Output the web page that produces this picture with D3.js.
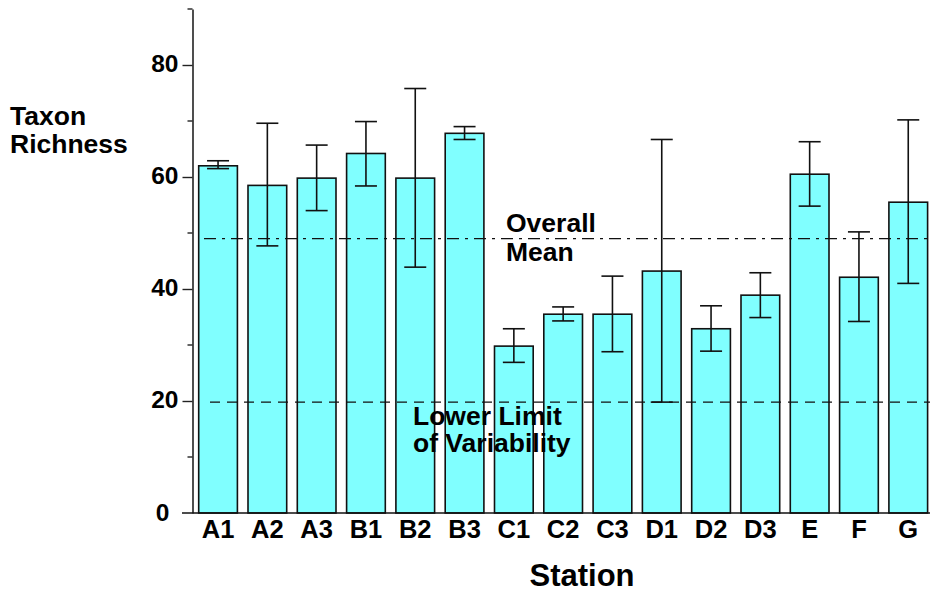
<!DOCTYPE html>
<html>
<head>
<meta charset="utf-8">
<script src="https://cdn.jsdelivr.net/npm/d3@7"></script>
<style>
  html, body { margin: 0; padding: 0; background: #fff; }
  svg { display: block; font-family: Arial, "Liberation Sans", sans-serif; font-weight: bold; }
</style>
</head>
<body>
<svg id="chart" width="932" height="592"></svg>
<script>
// Taxon richness per station: mean with lower/upper error-bar limits
const stations = ["A1","A2","A3","B1","B2","B3","C1","C2","C3","D1","D2","D3","E","F","G"];
const meanRichness = [62.0, 58.5, 59.8, 64.2, 59.8, 67.8, 29.8, 35.5, 35.5, 43.2, 32.9, 38.9, 60.5, 42.1, 55.5];
const upperLimit   = [62.9, 69.6, 65.7, 69.9, 75.8, 69.0, 32.9, 36.8, 42.3, 66.7, 37.0, 42.9, 66.3, 50.2, 70.2];
const lowerLimit   = [61.5, 47.7, 54.0, 58.4, 43.9, 66.7, 26.9, 34.3, 28.8, 19.8, 28.9, 34.9, 54.8, 34.2, 41.0];
const yTicks = [0, 20, 40, 60, 80];
const yMinorTicks = [10, 30, 50, 70, 90];
const overallMean = 49.0;
const variabilityLimit = 19.8;

const svg = d3.select("#chart");

const x = d3.scaleBand()
  .domain(stations)
  .range([193.4, 932.9])
  .paddingInner(0.215)
  .paddingOuter(0.1075);

const y = d3.scaleLinear().domain([0, 90]).range([513, 9]);

const axisX = 192.5;

// bars
svg.append("g").selectAll("rect")
  .data(stations)
  .join("rect")
  .attr("x", d => x(d))
  .attr("y", (d, i) => y(meanRichness[i]))
  .attr("width", x.bandwidth())
  .attr("height", (d, i) => y(0) - y(meanRichness[i]))
  .attr("fill", "#80ffff")
  .attr("stroke", "#111")
  .attr("stroke-width", 1.6);

// reference lines
svg.append("line")
  .attr("x1", 204).attr("x2", 930)
  .attr("y1", y(overallMean)).attr("y2", y(overallMean))
  .attr("stroke", "#111").attr("stroke-width", 1.2)
  .attr("stroke-dasharray", "12,6,3,6");

svg.append("line")
  .attr("x1", 210).attr("x2", 930)
  .attr("y1", y(variabilityLimit)).attr("y2", y(variabilityLimit))
  .attr("stroke", "#111").attr("stroke-width", 1.2)
  .attr("stroke-dasharray", "10,7");

// error bars
const capHalf = 11;
const err = svg.append("g").attr("stroke", "#111").attr("stroke-width", 1.6);
stations.forEach((s, i) => {
  const cx = x(s) + x.bandwidth() / 2;
  err.append("line")
    .attr("x1", cx).attr("x2", cx)
    .attr("y1", y(upperLimit[i])).attr("y2", y(lowerLimit[i]));
  [upperLimit[i], lowerLimit[i]].forEach(v => {
    err.append("line")
      .attr("x1", cx - capHalf).attr("x2", cx + capHalf)
      .attr("y1", y(v)).attr("y2", y(v));
  });
});

// y axis
const yAxis = svg.append("g")
  .attr("transform", `translate(${axisX},0)`)
  .call(d3.axisLeft(y).tickValues(yTicks).tickSize(10).tickSizeOuter(0).tickPadding(4));
yAxis.select(".domain").attr("stroke", "#222").attr("stroke-width", 1.6);
yAxis.selectAll(".tick line").attr("stroke", "#222").attr("stroke-width", 1.4);
yAxis.selectAll(".tick text")
  .attr("font-size", 24.5)
  .attr("font-weight", "bold")
  .attr("font-family", "Arial, 'Liberation Sans', sans-serif")
  .attr("fill", "#000")
  .attr("dy", "0.28em");
yAxis.selectAll(".tick").filter(d => d === 0).select("text").attr("x", -23).attr("dy", "0.3em");
yAxis.selectAll(".tick").filter(d => d === 0).select("line").remove();

svg.append("g").selectAll("line")
  .data(yMinorTicks)
  .join("line")
  .attr("x1", axisX - 5).attr("x2", axisX)
  .attr("y1", d => y(d)).attr("y2", d => y(d))
  .attr("stroke", "#222").attr("stroke-width", 1.4);

// x axis baseline and category labels
svg.append("line")
  .attr("x1", 182).attr("x2", 930)
  .attr("y1", y(0)).attr("y2", y(0))
  .attr("stroke", "#111").attr("stroke-width", 1.6);

svg.append("g").selectAll("text")
  .data(stations)
  .join("text")
  .attr("x", d => x(d) + x.bandwidth() / 2)
  .attr("y", 538)
  .attr("text-anchor", "middle")
  .attr("font-size", 25.5)
  .text(d => d);

// titles and annotations
svg.append("text").attr("x", 582).attr("y", 586).attr("text-anchor", "middle")
  .attr("font-size", 31).text("Station");

const yt = svg.append("text").attr("font-size", 26.5);
yt.append("tspan").attr("x", 10).attr("y", 125).text("Taxon");
yt.append("tspan").attr("x", 10).attr("y", 153).text("Richness");

const om = svg.append("text").attr("font-size", 26.5);
om.append("tspan").attr("x", 506).attr("y", 232).text("Overall");
om.append("tspan").attr("x", 506).attr("y", 261).text("Mean");

const ll = svg.append("text").attr("font-size", 26.5);
ll.append("tspan").attr("x", 413).attr("y", 425).text("Lower Limit");
ll.append("tspan").attr("x", 413).attr("y", 452).text("of Variability");
</script>
</body>
</html>
